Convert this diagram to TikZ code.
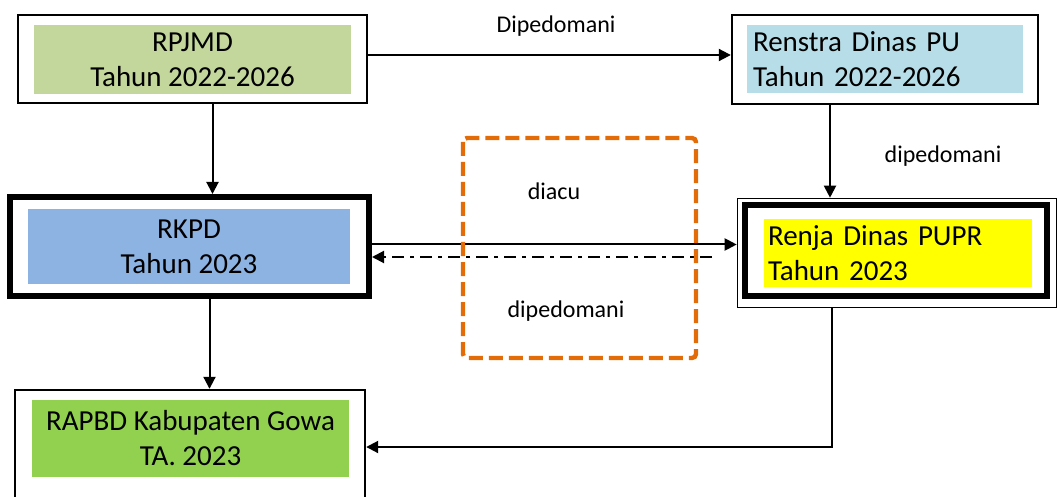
\documentclass[tikz,border=0pt]{standalone}
\usepackage{fontspec}
\setmainfont{Carlito}
\usetikzlibrary{arrows.meta,calc}
\definecolor{rpjmdgreen}{HTML}{C3D69B}
\definecolor{renstrablue}{HTML}{B7DEE8}
\definecolor{rkpdblue}{HTML}{8DB3E2}
\definecolor{renjayellow}{HTML}{FFFF00}
\definecolor{rapbdgreen}{HTML}{92D050}
\definecolor{acuorange}{HTML}{E36C09}
\tikzset{
  outerbox/.style={draw, line width=1.2pt, fill=white, inner sep=0pt},
  fillbox/.style={inner sep=0pt, font=\fontsize{14.5}{17.5}\selectfont},
  conn/.style={line width=1pt, -{Triangle[length=6pt,width=6pt]}},
  lbl/.style={font=\fontsize{12}{14}\selectfont, anchor=base},
}

\begin{document}
\begin{tikzpicture}[x=0.5pt,y=-0.5pt]
			%%%%% START %%%%%
			\path[use as bounding box] (0,0) rectangle (1059,497);
			\clip (0,0) rectangle (1059,497);
			
			% outer frames
			\node[outerbox, minimum width=174.5pt, minimum height=44pt] (rpjmd) at (192.5,59) {};
			\node[outerbox, minimum width=153pt, minimum height=44.5pt] (renstra) at (885,59.5) {};
			\node[outerbox, line width=3pt, minimum width=179.5pt, minimum height=49.5pt] (rkpd) at (189.5,246.5) {};
			\node[outerbox, line width=0.8pt, minimum width=159.5pt, minimum height=54.5pt] (renja) at (897,253) {};
			\node[outerbox, line width=3pt, minimum width=151pt, minimum height=45.5pt] (renjaframe) at (896,250.5) {};
			\node[outerbox, minimum width=175pt, minimum height=60pt] (rapbd) at (190,450) {};
			
			% coloured text boxes
			\node[fillbox, fill=rpjmdgreen, minimum width=158.5pt, minimum height=34.5pt, align=center] (rpjmdtext) at (192.5,59.5) {RPJMD\\Tahun 2022-2026};
			\node[fillbox, fill=renstrablue, minimum width=138pt, minimum height=34pt, inner xsep=3pt, text width=132pt, align=left] (renstratext) at (885,59) {Renstra Dinas PU\\Tahun 2022-2026};
			\node[fillbox, fill=rkpdblue, minimum width=161pt, minimum height=37.5pt, align=center] (rkpdtext) at (189,246.5) {RKPD\\Tahun 2023};
			\node[fillbox, fill=renjayellow, minimum width=134pt, minimum height=34pt, inner xsep=2pt, text width=130pt, align=left] (renjatext) at (898,253) {Renja Dinas PUPR\\Tahun 2023};
			\node[fillbox, fill=rapbdgreen, minimum width=158.5pt, minimum height=38.5pt, align=center] (rapbdtext) at (190.5,438.5) {RAPBD Kabupaten Gowa\\TA. 2023};
			
			% connectors
			\draw[conn] ([yshift=2pt]rpjmd.east) -- ([yshift=2pt]rpjmd.east -| renstra.west);
			\draw[conn] ([xshift=10pt]rpjmd.south) -- ([xshift=10pt]rpjmd.south |- rkpd.north);
			\draw[conn] ([xshift=-27.5pt]renstra.south) -- ([xshift=-27.5pt]renstra.south |- renja.north);
			\draw[conn] ([yshift=1pt]rkpd.east) -- ([yshift=1pt]rkpd.east -| renja.west);
			\coordinate (ddstart) at (712,257);
			\draw[conn, dash pattern=on 6pt off 3pt on 2pt off 3pt] (ddstart) -- (ddstart -| rkpd.east);
			\draw[conn] ([xshift=10pt]rkpd.south) -- ([xshift=10pt]rkpd.south |- rapbd.north);
			\draw[conn] ([xshift=-32.5pt]renja.south) |- ([yshift=1.5pt]rapbd.east);
			
			% orange frame
			\draw[acuorange, line width=2.2pt, dash pattern=on 7pt off 3pt, rounded corners=2pt] (463,138) rectangle (696,358);
			
			% labels
			\node[lbl] (lbltop) at (556,33) {Dipedomani};
			\node[lbl] (lblright) at (943,163) {dipedomani};
			\node[lbl] (lblacu) at (554,199) {diacu};
			\node[lbl] (lblmid) at (566,317) {dipedomani};
			%%%%% END %%%%%
\end{tikzpicture}
\end{document}
